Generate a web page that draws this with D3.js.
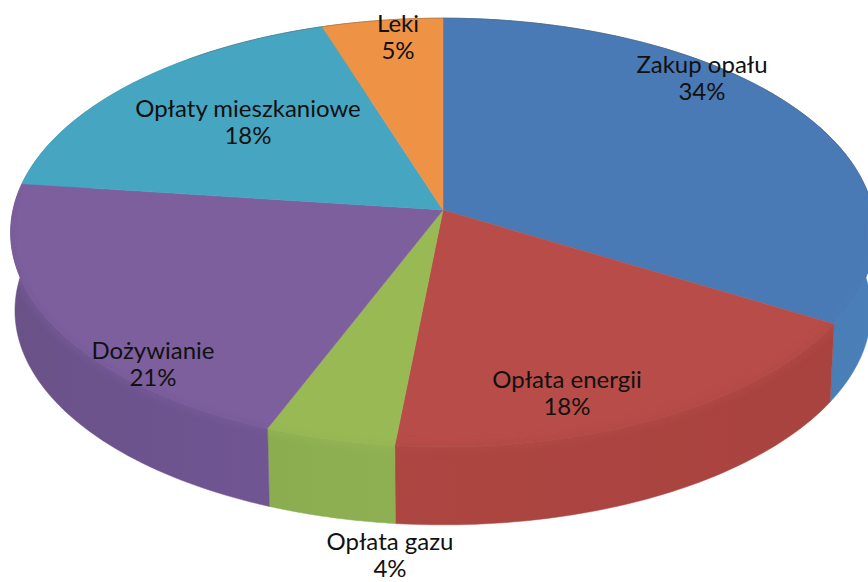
<!DOCTYPE html>
<html lang="pl">
<head>
    <meta charset="UTF-8">
    <title>Struktura wydatkow</title>
    <script src="https://d3js.org/d3.v7.min.js"></script>
    <style>
        body { margin: 0; padding: 0; background: #fff; }
        svg { display: block; }
        .label {
            font-family: Lato, "Open Sans", sans-serif;
            font-size: 24px;
            fill: #111;
            text-anchor: middle;
        }
    </style>
</head>
<body>
<div id="chart"></div>
<script>
    // data, clockwise from 12 o'clock. raw shares are a bit off the rounded labels
    const categories = ["Zakup opału", "Opłata energii", "Opłata gazu", "Dożywianie", "Opłaty mieszkaniowe", "Leki"];
    const shares = [33.5, 18.1, 4.4, 21, 18, 5];
    const percentLabels = ["34%", "18%", "4%", "21%", "18%", "5%"];

    // styling per slice, same order
    const topColors = ["#4a7ab5", "#b84c48", "#98b954", "#7d5f9e", "#46a5c1", "#ee9345"];
    const wallColors = [["#4178ad", "#4a7fb8"], ["#ad4641", "#a9433f"], ["#8bad50", "#8fb052"], ["#6a5288", "#705593"], ["#3a8ba3", "#3a8ba3"], ["#c97a38", "#c97a38"]];
    // label centres (px), first line
    const labelPos = [[702, 73], [567, 388], [390, 550], [153, 359], [248, 117], [398, 32]];

    const width = 868, height = 582;
    const apexX = 443, apexY = 210;
    const R = 430, S = 212, persp = 0.105;
    const depth = 78, shrink = 0.99;

    // perspective projection of a point on the disc (a clockwise from top)
    function project(a) {
        const u = Math.sin(a), v = Math.cos(a);
        const k = 1 + persp * v;
        return [apexX + R * u / k, apexY - S * v / k];
    }
    function projectBottom(a) {
        const p = project(a);
        return [apexX + (p[0] - apexX) * shrink, p[1] + depth];
    }

    const svg = d3.select("#chart").append("svg")
        .attr("width", width)
        .attr("height", height);

    const defs = svg.append("defs");
    defs.append("filter")
        .attr("id", "soft")
        .attr("filterUnits", "userSpaceOnUse")
        .attr("x", 0).attr("y", 0)
        .attr("width", width).attr("height", height)
        .append("feGaussianBlur")
        .attr("stdDeviation", 3.5);

    const arcs = d3.pie().sort(null)(shares);
    const line = d3.line();

    function rimAngles(d) {
        return d3.range(0, 61).map(i => d.startAngle + (d.endAngle - d.startAngle) * i / 60);
    }

    // side walls first, the top faces cover whatever is at the back
    arcs.forEach((d, i) => {
        const angles = rimAngles(d);
        const xs = angles.map(a => project(a)[0]);
        const grad = defs.append("linearGradient")
            .attr("id", "wall" + i)
            .attr("gradientUnits", "userSpaceOnUse")
            .attr("x1", d3.min(xs)).attr("x2", d3.max(xs))
            .attr("y1", 0).attr("y2", 0);
        grad.append("stop").attr("offset", 0).attr("stop-color", wallColors[i][0]);
        grad.append("stop").attr("offset", 1).attr("stop-color", wallColors[i][1]);

        const pts = angles.map(a => project(a)).concat(angles.slice().reverse().map(a => projectBottom(a)));
        svg.append("path")
            .attr("d", line(pts) + "Z")
            .attr("fill", `url(#wall${i})`)
            .attr("stroke", `url(#wall${i})`)
            .attr("stroke-width", 0.5);
    });

    // top faces
    arcs.forEach((d, i) => {
        const pts = [[apexX, apexY]].concat(rimAngles(d).map(a => project(a)));
        svg.append("path")
            .attr("d", line(pts) + "Z")
            .attr("fill", topColors[i])
            .attr("stroke", topColors[i])
            .attr("stroke-width", 0.5);
    });

    // the edge between top and wall is soft in the original, blur it inside each slice
    arcs.forEach((d, i) => {
        const angles = rimAngles(d);
        const top = [[apexX, apexY]].concat(angles.map(a => project(a)));
        const wall = angles.map(a => project(a)).concat(angles.slice().reverse().map(a => projectBottom(a)));
        const clip = defs.append("clipPath").attr("id", "slice" + i);
        clip.append("path").attr("d", line(top) + "Z");
        clip.append("path").attr("d", line(wall) + "Z");

        const front = angles.filter(a => Math.cos(a) < 0.1).map(a => project(a));
        if (front.length < 2) return;
        svg.append("g")
            .attr("clip-path", `url(#slice${i})`)
            .append("path")
            .attr("d", line(front))
            .attr("fill", "none")
            .attr("stroke", d3.interpolateRgb(topColors[i], wallColors[i][1])(0.5))
            .attr("stroke-width", 6)
            .attr("filter", "url(#soft)");
    });

    // thin grey edge along the back of the rim
    const backRim = d3.range(-40, 101).map(a => project(a * Math.PI / 180));
    svg.append("path")
        .attr("d", line(backRim))
        .attr("fill", "none")
        .attr("stroke", "#555")
        .attr("stroke-opacity", 0.45)
        .attr("stroke-width", 0.7);

    // labels
    categories.forEach((c, i) => {
        const t = svg.append("text").attr("class", "label")
            .attr("x", labelPos[i][0])
            .attr("y", labelPos[i][1]);
        t.append("tspan").attr("x", labelPos[i][0]).text(c);
        t.append("tspan").attr("x", labelPos[i][0]).attr("dy", 27).text(percentLabels[i]);
    });
</script>
</body>
</html>
